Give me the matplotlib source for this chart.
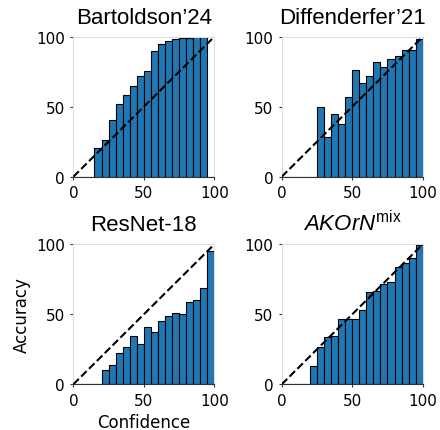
import matplotlib
matplotlib.use("Agg")
import matplotlib.pyplot as plt

# bin left edges (width 5) and accuracy per bin
bin_starts = [0, 5, 10, 15, 20, 25, 30, 35, 40, 45, 50, 55, 60, 65, 70, 75, 80, 85, 90, 95]
bin_width = 5

titles = ["Bartoldson\u201924", "Diffenderfer\u201921", "ResNet-18", r"$AKOrN^{\mathrm{mix}}$"]

acc_bartoldson = [0, 0, 0, 20.4, 26.1, 40.6, 52.0, 58.2, 65.1, 72.2, 75.5, 89.8,
                  94.8, 96.7, 98.3, 99.3, 99.3, 99.8, 100, 0]
acc_diffenderfer = [0, 0, 0, 0, 0, 49.8, 28.1, 44.5, 37.4, 56.9, 76.4, 66.9,
                    71.7, 82.1, 78.6, 83.8, 86.4, 90.7, 90.6, 98.6]
acc_resnet = [0, 0, 0, 0, 10.0, 13.8, 22.4, 26.4, 34.3, 28.8, 41.0, 37.4,
              45.0, 48.6, 50.7, 50.2, 58.6, 60.2, 68.8, 95.2]
acc_akorn = [0, 0, 0, 0, 13.3, 26.4, 33.8, 34.8, 46.4, 46.9, 46.4, 52.9,
             65.7, 66.9, 71.7, 72.9, 83.8, 86.7, 90.0, 99.5]

all_acc = [acc_bartoldson, acc_diffenderfer, acc_resnet, acc_akorn]

# title math text in the same sans face as the other titles
plt.rcParams["mathtext.fontset"] = "custom"
plt.rcParams["mathtext.rm"] = "Liberation Sans"
plt.rcParams["mathtext.it"] = "Liberation Sans:italic"

fig, axes = plt.subplots(2, 2, figsize=(4.4, 4.31), dpi=100)
plt.subplots_adjust(left=0.1667, right=0.9607, top=0.9125, bottom=0.106,
                    wspace=0.478, hspace=0.483)

for ax, title, acc in zip(axes.flat, titles, all_acc):
    ax.bar(bin_starts, acc, width=bin_width, align="edge", color="#1f77b4",
           edgecolor="black", linewidth=0.8, zorder=2)
    ax.plot([0, 100], [0, 100], "k--", linewidth=1.5, zorder=3)
    ax.set_xlim(0, 100)
    ax.set_ylim(0, 100)
    ax.set_xticks([0, 50, 100])
    ax.set_yticks([0, 50, 100])
    ax.tick_params(labelsize=11, length=2.5, width=0.8, color="#333333")
    for side in ["left", "top", "right"]:
        ax.spines[side].set_color("#dddddd")
    ax.spines["bottom"].set_color("#333333")
    ax.set_title(title, fontsize=16, family="Liberation Sans", pad=10)

axes[1, 0].set_xlabel("Confidence", fontsize=12)
axes[1, 0].set_ylabel("Accuracy", fontsize=12)

plt.savefig("out.png", dpi=100)
